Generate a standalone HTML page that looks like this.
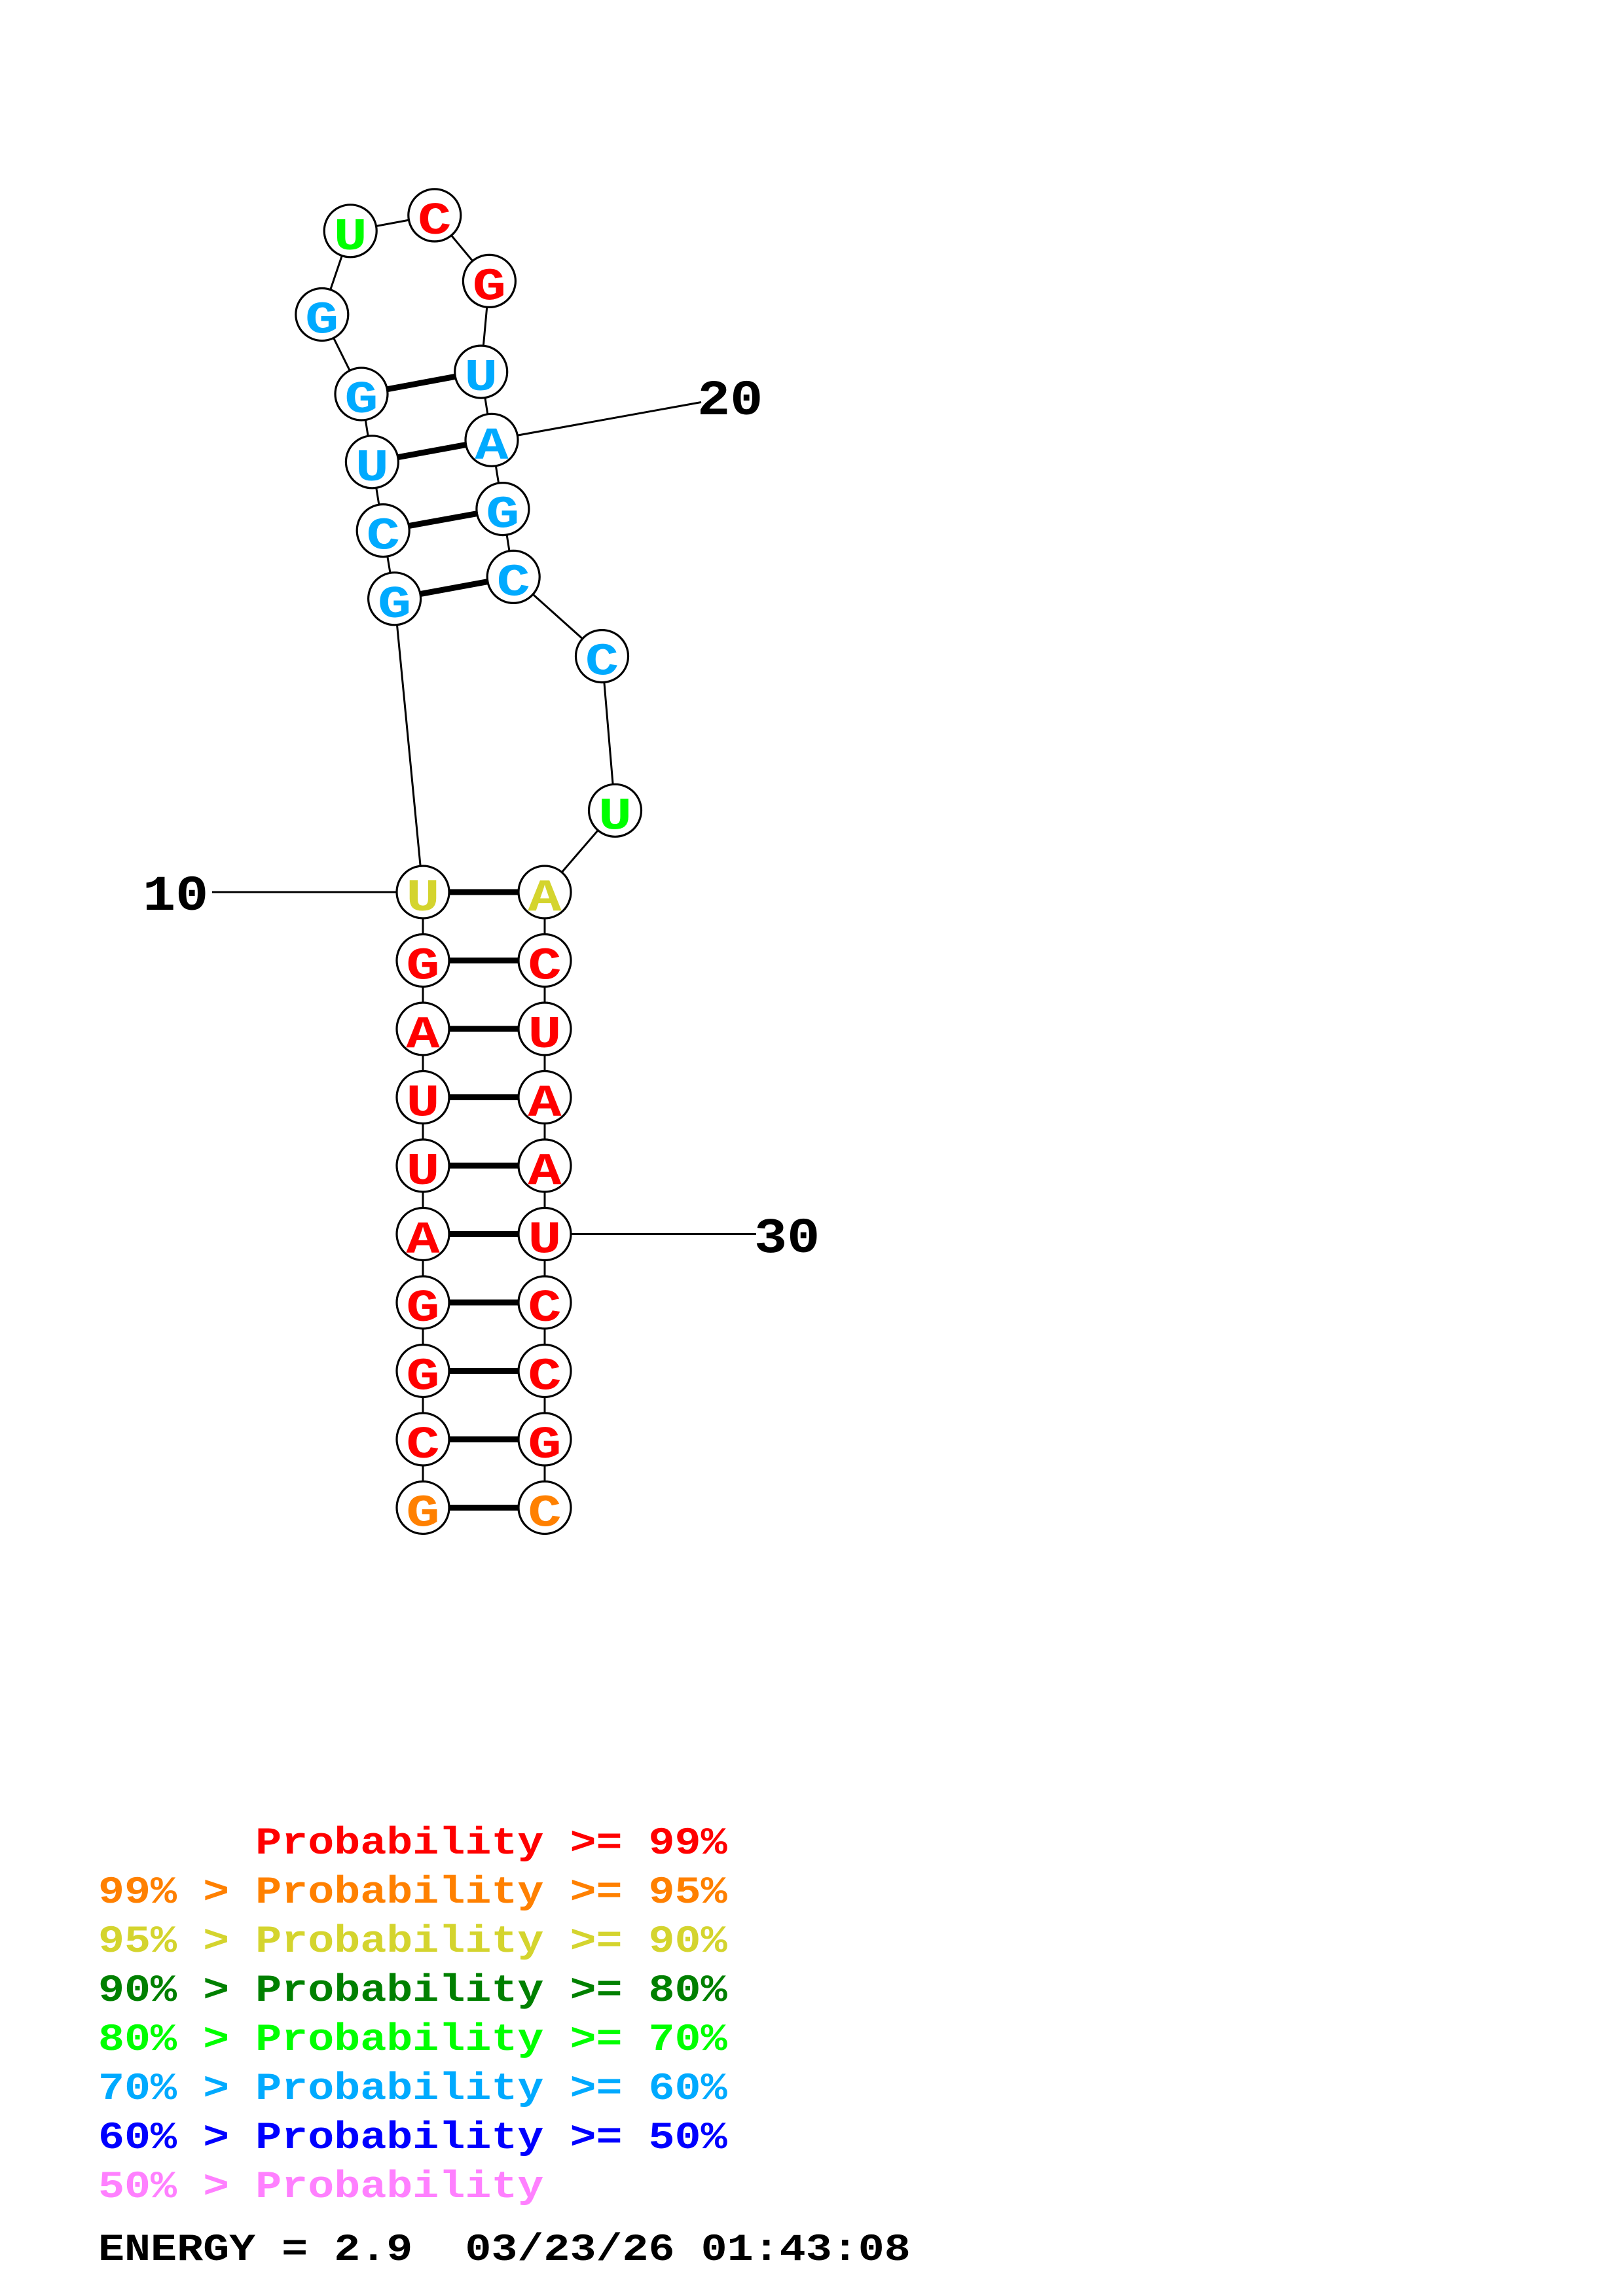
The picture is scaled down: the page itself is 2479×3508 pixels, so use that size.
<!DOCTYPE html>
<html>
<head>
<meta charset="utf-8">
<style>
html,body{margin:0;padding:0;background:#fff;}
svg{display:block;}
.n{font-family:"Liberation Mono",monospace;font-weight:bold;font-size:70px;}
.lab{font-family:"Liberation Mono",monospace;font-weight:bold;font-size:76px;fill:#000;}
.leg{font-family:"Liberation Mono",monospace;font-weight:bold;font-size:58px;white-space:pre;}
</style>
</head>
<body>
<svg width="2479" height="3508" viewBox="0 0 2479 3508" xmlns="http://www.w3.org/2000/svg">
<rect x="0" y="0" width="2479" height="3508" fill="#fff"/>

<!-- label lines -->
<line x1="324" y1="1363" x2="646" y2="1363" stroke="#000" stroke-width="3"/>
<line x1="751" y1="672.3" x2="1071" y2="614.5" stroke="#000" stroke-width="3"/>
<line x1="832" y1="1885.5" x2="1155" y2="1885.5" stroke="#000" stroke-width="3"/>

<!-- backbone -->
<polyline fill="none" stroke="#000" stroke-width="3" points="
646,2303.5 646,2199 646,2094.5 646,1990 646,1885.5 646,1781 646,1676.5 646,1572 646,1467.5 646,1363
602.6,914.8 585.2,810.6 568.4,705.8 552,602 491.8,480.5 535.2,352.8 663.8,328.9 747.4,429.4 734.7,568.1
751,672.3 767.9,777.6 784.2,881.4 919.5,1002.6 939.5,1238.3
832,1363 832,1467.5 832,1572 832,1676.5 832,1781 832,1885.5 832,1990 832,2094.5 832,2199 832,2303.5"/>

<!-- pairs -->
<g stroke="#000" stroke-width="9">
<line x1="646" y1="2303.5" x2="832" y2="2303.5"/>
<line x1="646" y1="2199" x2="832" y2="2199"/>
<line x1="646" y1="2094.5" x2="832" y2="2094.5"/>
<line x1="646" y1="1990" x2="832" y2="1990"/>
<line x1="646" y1="1885.5" x2="832" y2="1885.5"/>
<line x1="646" y1="1781" x2="832" y2="1781"/>
<line x1="646" y1="1676.5" x2="832" y2="1676.5"/>
<line x1="646" y1="1572" x2="832" y2="1572"/>
<line x1="646" y1="1467.5" x2="832" y2="1467.5"/>
<line x1="646" y1="1363" x2="832" y2="1363"/>
<line x1="602.6" y1="914.8" x2="784.2" y2="881.4"/>
<line x1="585.2" y1="810.6" x2="767.9" y2="777.6"/>
<line x1="568.4" y1="705.8" x2="751" y2="672.3"/>
<line x1="552" y1="602" x2="734.7" y2="568.1"/>
</g>

<!-- circles -->
<g fill="#fff" stroke="#000" stroke-width="3.2">
<circle cx="646" cy="2303.5" r="40"/>
<circle cx="646" cy="2199" r="40"/>
<circle cx="646" cy="2094.5" r="40"/>
<circle cx="646" cy="1990" r="40"/>
<circle cx="646" cy="1885.5" r="40"/>
<circle cx="646" cy="1781" r="40"/>
<circle cx="646" cy="1676.5" r="40"/>
<circle cx="646" cy="1572" r="40"/>
<circle cx="646" cy="1467.5" r="40"/>
<circle cx="646" cy="1363" r="40"/>
<circle cx="602.6" cy="914.8" r="40"/>
<circle cx="585.2" cy="810.6" r="40"/>
<circle cx="568.4" cy="705.8" r="40"/>
<circle cx="552" cy="602" r="40"/>
<circle cx="491.8" cy="480.5" r="40"/>
<circle cx="535.2" cy="352.8" r="40"/>
<circle cx="663.8" cy="328.9" r="40"/>
<circle cx="747.4" cy="429.4" r="40"/>
<circle cx="734.7" cy="568.1" r="40"/>
<circle cx="751" cy="672.3" r="40"/>
<circle cx="767.9" cy="777.6" r="40"/>
<circle cx="784.2" cy="881.4" r="40"/>
<circle cx="919.5" cy="1002.6" r="40"/>
<circle cx="939.5" cy="1238.3" r="40"/>
<circle cx="832" cy="1363" r="40"/>
<circle cx="832" cy="1467.5" r="40"/>
<circle cx="832" cy="1572" r="40"/>
<circle cx="832" cy="1676.5" r="40"/>
<circle cx="832" cy="1781" r="40"/>
<circle cx="832" cy="1885.5" r="40"/>
<circle cx="832" cy="1990" r="40"/>
<circle cx="832" cy="2094.5" r="40"/>
<circle cx="832" cy="2199" r="40"/>
<circle cx="832" cy="2303.5" r="40"/>
</g>

<!-- letters -->
<g class="n" text-anchor="middle">
<text transform="translate(646,2331.5) scale(1.22,1)" fill="#ff8000">G</text>
<text transform="translate(646,2227) scale(1.22,1)" fill="#ff0000">C</text>
<text transform="translate(646,2122.5) scale(1.22,1)" fill="#ff0000">G</text>
<text transform="translate(646,2018) scale(1.22,1)" fill="#ff0000">G</text>
<text transform="translate(646,1913.5) scale(1.22,1)" fill="#ff0000">A</text>
<text transform="translate(646,1809) scale(1.22,1)" fill="#ff0000">U</text>
<text transform="translate(646,1704.5) scale(1.22,1)" fill="#ff0000">U</text>
<text transform="translate(646,1600) scale(1.22,1)" fill="#ff0000">A</text>
<text transform="translate(646,1495.5) scale(1.22,1)" fill="#ff0000">G</text>
<text transform="translate(646,1391) scale(1.22,1)" fill="#d4d42e">U</text>
<text transform="translate(602.6,942.8) scale(1.22,1)" fill="#00aaff">G</text>
<text transform="translate(585.2,838.6) scale(1.22,1)" fill="#00aaff">C</text>
<text transform="translate(568.4,733.8) scale(1.22,1)" fill="#00aaff">U</text>
<text transform="translate(552,630) scale(1.22,1)" fill="#00aaff">G</text>
<text transform="translate(491.8,508.5) scale(1.22,1)" fill="#00aaff">G</text>
<text transform="translate(535.2,380.8) scale(1.22,1)" fill="#00ff00">U</text>
<text transform="translate(663.8,356.9) scale(1.22,1)" fill="#ff0000">C</text>
<text transform="translate(747.4,457.4) scale(1.22,1)" fill="#ff0000">G</text>
<text transform="translate(734.7,596.1) scale(1.22,1)" fill="#00aaff">U</text>
<text transform="translate(751,700.3) scale(1.22,1)" fill="#00aaff">A</text>
<text transform="translate(767.9,805.6) scale(1.22,1)" fill="#00aaff">G</text>
<text transform="translate(784.2,909.4) scale(1.22,1)" fill="#00aaff">C</text>
<text transform="translate(919.5,1030.6) scale(1.22,1)" fill="#00aaff">C</text>
<text transform="translate(939.5,1266.3) scale(1.22,1)" fill="#00ff00">U</text>
<text transform="translate(832,1391) scale(1.22,1)" fill="#d4d42e">A</text>
<text transform="translate(832,1495.5) scale(1.22,1)" fill="#ff0000">C</text>
<text transform="translate(832,1600) scale(1.22,1)" fill="#ff0000">U</text>
<text transform="translate(832,1704.5) scale(1.22,1)" fill="#ff0000">A</text>
<text transform="translate(832,1809) scale(1.22,1)" fill="#ff0000">A</text>
<text transform="translate(832,1913.5) scale(1.22,1)" fill="#ff0000">U</text>
<text transform="translate(832,2018) scale(1.22,1)" fill="#ff0000">C</text>
<text transform="translate(832,2122.5) scale(1.22,1)" fill="#ff0000">C</text>
<text transform="translate(832,2227) scale(1.22,1)" fill="#ff0000">G</text>
<text transform="translate(832,2331.5) scale(1.22,1)" fill="#ff8000">C</text>
</g>

<!-- position labels -->
<text class="lab" transform="translate(218,1390) scale(1.1,1)">10</text>
<text class="lab" transform="translate(1065,633) scale(1.1,1)">20</text>
<text class="lab" transform="translate(1152,1913) scale(1.1,1)">30</text>

<!-- legend -->
<text class="leg" transform="translate(150,2832) scale(1.15,1)" fill="#ff0000">      Probability &gt;= 99%</text>
<text class="leg" transform="translate(150,2907) scale(1.15,1)" fill="#ff8000">99% &gt; Probability &gt;= 95%</text>
<text class="leg" transform="translate(150,2982) scale(1.15,1)" fill="#d4d42e">95% &gt; Probability &gt;= 90%</text>
<text class="leg" transform="translate(150,3057) scale(1.15,1)" fill="#008000">90% &gt; Probability &gt;= 80%</text>
<text class="leg" transform="translate(150,3132) scale(1.15,1)" fill="#00ff00">80% &gt; Probability &gt;= 70%</text>
<text class="leg" transform="translate(150,3207) scale(1.15,1)" fill="#00aaff">70% &gt; Probability &gt;= 60%</text>
<text class="leg" transform="translate(150,3282) scale(1.15,1)" fill="#0000ff">60% &gt; Probability &gt;= 50%</text>
<text class="leg" transform="translate(150,3357) scale(1.15,1)" fill="#ff80ff">50% &gt; Probability</text>
<text class="leg" transform="translate(150,3453) scale(1.15,1)" fill="#000000">ENERGY = 2.9  03/23/26 01:43:08</text>
</svg>
</body>
</html>
